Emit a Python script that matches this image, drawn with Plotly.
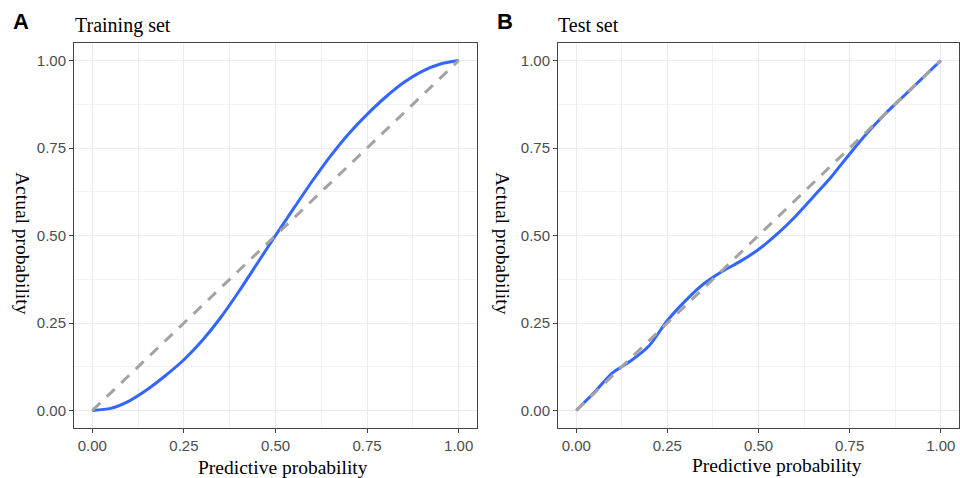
import plotly.graph_objects as go

# ---- data ----
tick_vals = [0, 0.25, 0.5, 0.75, 1.0]
tick_text = ["0.00", "0.25", "0.50", "0.75", "1.00"]

prob_x = [0, 0.05, 0.1, 0.15, 0.2, 0.25, 0.3, 0.35, 0.4, 0.45, 0.5,
          0.55, 0.6, 0.65, 0.7, 0.75, 0.8, 0.85, 0.9, 0.95, 1.0]

train_y = [0, 0.006, 0.027, 0.06, 0.1, 0.145, 0.2, 0.265, 0.34, 0.42, 0.5,
           0.578, 0.655, 0.727, 0.791, 0.846, 0.895, 0.937, 0.969, 0.99, 1.0]

test_y = [0, 0.052, 0.108, 0.142, 0.185, 0.257, 0.314, 0.362, 0.397, 0.426, 0.46,
          0.503, 0.553, 0.61, 0.668, 0.733, 0.795, 0.85, 0.9, 0.95, 1.0]

ref_x = [0, 1]
ref_y = [0, 1]

W, H = 960, 478
BLUE = "#3366FF"
GRAY = "#A3A3A3"
SERIF = "Liberation Serif, Times New Roman, serif"
SANS = "Liberation Sans, Arial, sans-serif"

fig = go.Figure()

for xa, ya, cy in [("x", "y", train_y), ("x2", "y2", test_y)]:
    fig.add_trace(go.Scatter(x=prob_x, y=cy, mode="lines", xaxis=xa, yaxis=ya,
                             line=dict(color=BLUE, width=3, shape="spline", smoothing=0.7),
                             showlegend=False, hoverinfo="skip"))
    fig.add_trace(go.Scatter(x=ref_x, y=ref_y, mode="lines", xaxis=xa, yaxis=ya,
                             line=dict(color=GRAY, width=3, dash="11px,9px"),
                             showlegend=False, hoverinfo="skip"))

def px_x(p):
    return p / W

def px_y(p):
    return 1 - p / H

def axis_common():
    return dict(
        range=[-0.05, 1.05], tickvals=tick_vals, ticktext=tick_text,
        showline=True, mirror=True, linecolor="#444444", linewidth=1,
        ticks="outside", ticklen=4, tickcolor="#444444", tickwidth=1,
        tickfont=dict(family=SANS, size=15, color="#4d4d4d"),
        showgrid=True, gridcolor="#EBEBEB", gridwidth=1.2, zeroline=False,
        minor=dict(tickvals=[0.125, 0.375, 0.625, 0.875], showgrid=True,
                   gridcolor="#F2F2F2", gridwidth=0.8, ticks=""),
        fixedrange=True,
    )

ydom = [px_y(428), px_y(43)]
fig.update_layout(
    width=W, height=H,
    margin=dict(l=0, r=0, t=0, b=0),
    paper_bgcolor="white", plot_bgcolor="white",
    xaxis=dict(domain=[px_x(74), px_x(477)], anchor="y", **axis_common()),
    yaxis=dict(domain=ydom, anchor="x", **axis_common()),
    xaxis2=dict(domain=[px_x(558), px_x(959)], anchor="y2", **axis_common()),
    yaxis2=dict(domain=ydom, anchor="x2", **axis_common()),
)

ann = []
ann.append(dict(text="<b>A</b>", x=px_x(11), y=px_y(22), xanchor="left", yanchor="middle",
                font=dict(family=SANS, size=22, color="black")))
ann.append(dict(text="<b>B</b>", x=px_x(495), y=px_y(22), xanchor="left", yanchor="middle",
                font=dict(family=SANS, size=22, color="black")))
ann.append(dict(text="Training set", x=px_x(73), y=px_y(25), xanchor="left", yanchor="middle",
                font=dict(family=SERIF, size=20, color="black")))
ann.append(dict(text="Test set", x=px_x(556), y=px_y(25), xanchor="left", yanchor="middle",
                font=dict(family=SERIF, size=20, color="black")))
ann.append(dict(text="Predictive probability", x=px_x(283), y=px_y(467), xanchor="center", yanchor="middle",
                font=dict(family=SERIF, size=19.5, color="black")))
ann.append(dict(text="Predictive probability", x=px_x(777), y=px_y(465), xanchor="center", yanchor="middle",
                font=dict(family=SERIF, size=19.5, color="black")))
ann.append(dict(text="Actual probability", x=px_x(23), y=px_y(243), xanchor="center", yanchor="middle",
                textangle=90, font=dict(family=SERIF, size=19.5, color="black")))
ann.append(dict(text="Actual probability", x=px_x(503), y=px_y(243), xanchor="center", yanchor="middle",
                textangle=90, font=dict(family=SERIF, size=19.5, color="black")))
for a in ann:
    a.update(xref="paper", yref="paper", showarrow=False)
fig.update_layout(annotations=ann)

fig.write_html("out.html", config={"displayModeBar": False},
               post_script="document.body.style.margin='0px';document.body.style.overflow='hidden';")
